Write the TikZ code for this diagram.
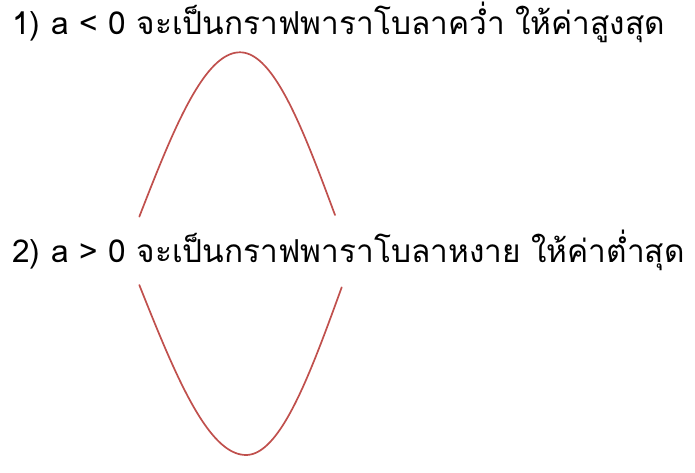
\documentclass[tikz,border=0pt]{standalone}
\usepackage{fontspec}
\newfontfamily\thaifont[Script=Thai]{Loma}
\usetikzlibrary{positioning}
\definecolor{curvered}{HTML}{C0504D}

\begin{document}
\begin{tikzpicture}[
            x = 1pt, y = -1pt, % pixel units, y goes down
            line cap = round,
            semithick % line style
        ]

        \tikzstyle{caption}=[
            anchor = base west,
            inner sep = 0pt,
            font = \thaifont\fontsize{31.6}{36}\selectfont
        ]
        \tikzstyle{parabola}=[
            draw = curvered,
            line width = 1.7pt,
            variable = \t,
            samples = 40
        ]

        \useasboundingbox (0,0) rectangle (695,473);

        \node[caption] (max) at (12,35) {1) a < 0 จะเป็นกราฟพาราโบลาคว่ำ ให้ค่าสูงสุด};
        \node[caption] (min) at (12,262) {2) a > 0 จะเป็นกราฟพาราโบลาหงาย ให้ค่าต่ำสุด};

	% opening downwards, top at (240,52.3)
	\draw[parabola] plot[domain=-90:0] ({240+100.7*\t/90},{52.3+164.4*(1-cos(\t))})
	    -- plot[domain=0:90] ({240+95*\t/90},{52.3+162.7*(1-cos(\t))});

	% opening upwards, bottom at (246,455)
	\draw[parabola] plot[domain=-90:0] ({246+106.7*\t/90},{455-170*(1-cos(\t))})
	    -- plot[domain=0:90] ({246+95.7*\t/90},{455-167.7*(1-cos(\t))});
    \end{tikzpicture}
\end{document}
